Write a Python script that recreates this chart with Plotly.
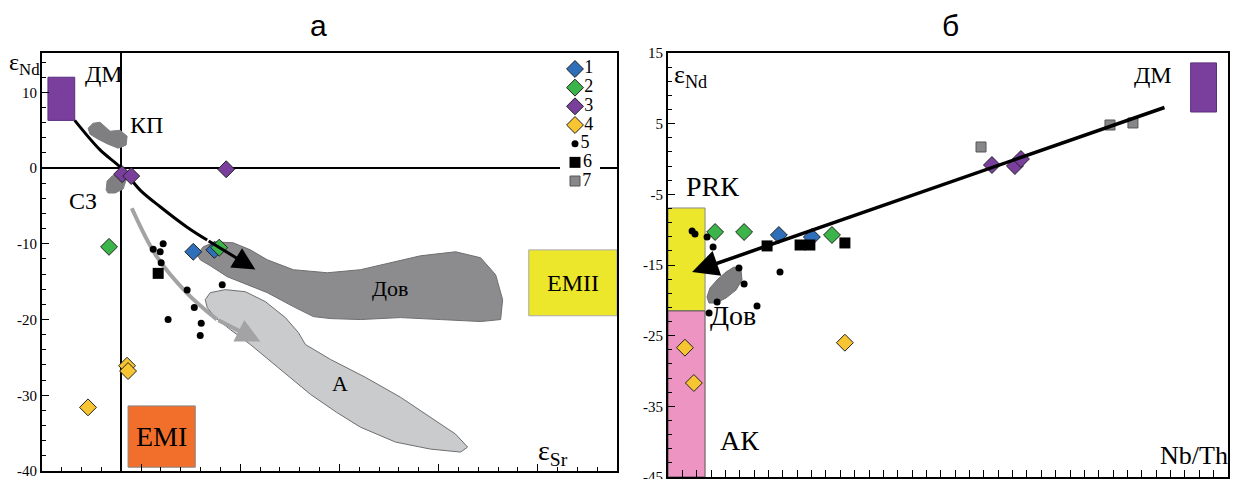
import plotly.graph_objects as go

W, H = 1233, 479
SERIF = "Times New Roman, Liberation Serif, DejaVu Serif, serif"

# ---------------- panel а : eps Sr vs eps Nd ----------------
a1_sr = [36.3, 46.9]
a1_nd = [-11.05, -10.8]
a2_sr = [-6.2, 49.4]
a2_nd = [-10.4, -10.5]
a3_sr = [0.4, 5.0, 52.9]
a3_nd = [-0.8, -1.05, -0.15]
a4_sr = [-16.8, 2.9, 3.4]
a4_nd = [-31.6, -26.1, -26.8]
a5_sr = [16.1, 21.1, 19.6, 20.1, 33.2, 50.9, 36.8, 23.6, 40.3, 39.8]
a5_nd = [-10.7, -10.0, -11.05, -12.5, -16.1, -15.4, -18.4, -20.0, -20.5, -22.1]
a6_sr = [18.6]
a6_nd = [-13.9]

# axis ticks (panel а)
a_xticks = [-40, 10, 60, 110, 160, 210]
a_xlabels = ["-40", "10", "60", "110", "160", "210"]
a_yticks = [-40, -30, -20, -10, 0, 10]
a_ylabels = ["-40", "-30", "-20", "-10", "0", "10"]

# fields (outlines)
kp_sr = [-16.77, -14.24, -10.71, -7.68, -5.66, -0.61, 2.93, 2.42, -1.62, -6.67, -11.72, -15.76]
kp_nd = [5.26, 5.92, 6.05, 5.39, 4.87, 5.0, 4.21, 3.03, 2.63, 3.16, 3.82, 4.47]
sz_sr = [-7.68, -7.17, -4.65, -1.62, 1.41, 2.42, 0.91, -3.13, -6.67]
sz_nd = [-2.89, -1.71, -1.05, -0.66, -0.79, -1.58, -2.76, -3.29, -3.29]
dov_sr = [38.28, 41.31, 47.37, 56.46, 65.05, 73.64, 86.77, 103.94, 120.61, 133.23, 150.91, 168.59,
          181.21, 188.79, 192.32, 191.31, 181.21, 161.01, 140.81, 120.61, 105.45, 96.87, 86.77,
          73.64, 60.0, 53.43, 44.85, 39.8]
dov_nd = [-11.45, -10.39, -9.74, -9.87, -10.79, -12.11, -13.42, -13.82, -13.42, -12.63, -11.58, -11.05,
          -11.84, -14.08, -17.37, -20.0, -20.26, -20.0, -19.74, -20.0, -19.87, -19.61, -18.29,
          -16.45, -15.0, -14.34, -12.89, -12.11]
a_sr = [42.32, 44.85, 52.42, 62.53, 72.63, 82.73, 89.29, 92.83, 105.45, 123.13, 140.81, 155.96,
        168.59, 174.65, 171.11, 155.96, 138.28, 120.61, 108.48, 95.35, 86.26, 75.15, 65.05, 54.95,
        47.37, 43.33]
a_nd = [-17.37, -16.45, -16.05, -16.32, -17.63, -19.74, -21.71, -23.29, -25.26, -27.63, -30.26, -32.89,
        -35.13, -36.84, -37.5, -37.11, -36.18, -34.21, -32.24, -29.87, -27.89, -25.53, -23.29, -21.32,
        -19.74, -18.42]

# trends
blk_sr = [-23.5, -10.7, 0.0, 9.5, 19.6, 33.2, 43.3]
blk_nd = [6.3, 2.4, 0.0, -2.9, -5.1, -7.8, -9.5]
blk_tip = (67.6, -13.4)
gry_sr = [5.3, 17.9, 33.1, 48.2]
gry_nd = [-5.3, -11.7, -16.5, -20.0]
gry_tip = (70.1, -22.9)

# reservoirs (sr0, sr1, nd0, nd1)
dm_a = (-37.0, -23.5, 6.3, 12.0)
emi = (3.4, 37.3, -39.5, -31.4)
emii = (205.5, 250.0, -19.5, -10.8)

# ---------------- panel б : Nb/Th vs eps Nd ----------------
b1_x = [3.86, 5.01]
b1_y = [-10.75, -11.04]
b2_x = [1.64, 2.65, 5.71]
b2_y = [-10.33, -10.33, -10.75]
b3_x = [11.28, 12.08, 12.29]
b3_y = [-0.85, -0.99, 0.0]
b4_x = [0.59, 0.9, 6.16]
b4_y = [-26.7, -31.7, -26.0]
b5_x = [0.84, 0.94, 1.36, 1.57, 2.47, 2.65, 1.71, 3.1, 1.43, 3.9]
b5_y = [-10.19, -10.61, -11.04, -12.45, -15.42, -17.69, -20.23, -20.8, -21.79, -15.99]
b6_x = [3.45, 4.6, 4.94, 6.16]
b6_y = [-12.3, -12.17, -12.17, -11.88]
b7_x = [10.9, 15.39, 16.19]
b7_y = [1.7, 4.81, 5.1]

b_yticks = [-45, -35, -25, -15, -5, 5, 15]
b_ylabels = ["-45", "-35", "-25", "-15", "-5", "5", "15"]

bdov_x = [1.358, 1.462, 1.706, 2.02, 2.298, 2.542, 2.577, 2.368, 2.02, 1.671, 1.428]
bdov_y = [-19.53, -18.25, -17.12, -15.99, -15.28, -15.71, -17.12, -18.54, -19.67, -20.38, -20.38]

b_trend_start = (17.34, 7.36)
b_trend_tip = (0.84, -15.99)

prk = (0.0, 1.29, -21.5, -6.93)
ak = (0.0, 1.29, -45.0, -21.5)
dm_b = (18.2, 19.1, 6.65, 13.6)

legend_labels = ["1", "2", "3", "4", "5", "6", "7"]

# ---------------- styles ----------------
STY = {
    1: dict(symbol="diamond", size=13, color="#2f6fba", line=dict(color="#222", width=1)),
    2: dict(symbol="diamond", size=13, color="#3bb54a", line=dict(color="#222", width=1)),
    3: dict(symbol="diamond", size=13, color="#7a3f9d", line=dict(color="#222", width=1)),
    4: dict(symbol="diamond", size=13, color="#f7c531", line=dict(color="#222", width=1)),
    5: dict(symbol="circle", size=7, color="black", line=dict(width=0)),
    6: dict(symbol="square", size=11, color="black", line=dict(width=0)),
    7: dict(symbol="square", size=10, color="#87878a", line=dict(color="#555", width=1)),
}

fig = go.Figure()


def poly(xs, ys, fill, line, xa="x", ya="y"):
    fig.add_trace(go.Scatter(x=xs + xs[:1], y=ys + ys[:1], mode="lines", fill="toself",
                             fillcolor=fill, line=dict(color=line, width=1),
                             xaxis=xa, yaxis=ya, showlegend=False, hoverinfo="skip"))


def pts(xs, ys, k, xa="x", ya="y"):
    fig.add_trace(go.Scatter(x=xs, y=ys, mode="markers", marker=STY[k], xaxis=xa, yaxis=ya,
                             showlegend=False))


# panel а fields
poly(a_sr, a_nd, "#c9cbcd", "#6e6e70")
poly(dov_sr, dov_nd, "#8c8c8f", "#6e6e70")
poly(kp_sr, kp_nd, "#7f7f82", "#7f7f82")
poly(sz_sr, sz_nd, "#7f7f82", "#7f7f82")

# trend lines
fig.add_trace(go.Scatter(x=gry_sr, y=gry_nd, mode="lines", line=dict(color="#a3a3a5", width=4, shape="spline"),
                         showlegend=False, hoverinfo="skip"))
fig.add_trace(go.Scatter(x=blk_sr, y=blk_nd, mode="lines", line=dict(color="black", width=3, shape="spline"),
                         showlegend=False, hoverinfo="skip"))

for k, (xs, ys) in {1: (a1_sr, a1_nd), 2: (a2_sr, a2_nd), 3: (a3_sr, a3_nd), 4: (a4_sr, a4_nd),
                    5: (a5_sr, a5_nd), 6: (a6_sr, a6_nd)}.items():
    pts(xs, ys, k)

# panel б
poly(bdov_x, bdov_y, "#7f7f82", "#6e6e70", "x2", "y2")
for k, (xs, ys) in {7: (b7_x, b7_y), 1: (b1_x, b1_y), 2: (b2_x, b2_y), 3: (b3_x, b3_y),
                    4: (b4_x, b4_y), 5: (b5_x, b5_y), 6: (b6_x, b6_y)}.items():
    pts(xs, ys, k, "x2", "y2")

# manual legend
for i, lab in enumerate(legend_labels):
    fig.add_trace(go.Scatter(x=[1.5], y=[i], mode="markers+text", marker=STY[i + 1],
                             text=[lab], textposition="middle right",
                             textfont=dict(family=SERIF, size=18, color="black"),
                             xaxis="x3", yaxis="y3", showlegend=False, hoverinfo="skip"))

shapes = []


def rect(r, color, xref="x", yref="y", line=None):
    shapes.append(dict(type="rect", xref=xref, yref=yref, x0=r[0], x1=r[1], y0=r[2], y1=r[3],
                       fillcolor=color, line=line or dict(width=0), layer="below"))


rect(dm_a, "#7a3f9d", line=dict(color="#5a2f7d", width=1))
rect(emi, "#f26f2b", line=dict(color="#888", width=1))
rect(emii, "#ede72b", line=dict(color="#aaa", width=1))
rect(prk, "#ede72b", "x2", "y2", line=dict(color="#888", width=1))
rect(ak, "#ee94c3", "x2", "y2", line=dict(color="#555", width=1))
rect(dm_b, "#7a3f9d", "x2", "y2", line=dict(color="#5a2f7d", width=1))

ann = []


def txt(x, y, s, size, xref="x", yref="y", family=SERIF):
    ann.append(dict(x=x, y=y, xref=xref, yref=yref, text=s, showarrow=False,
                    xanchor="center", yanchor="middle",
                    font=dict(family=family, size=size, color="black")))


def arrow(tip, tail, color, width, head, size, xref="x", yref="y"):
    ann.append(dict(x=tip[0], y=tip[1], ax=tail[0], ay=tail[1], xref=xref, yref=yref,
                    axref=xref, ayref=yref, showarrow=True, arrowhead=head, arrowsize=size,
                    arrowwidth=width, arrowcolor=color, text=""))


arrow(blk_tip, (blk_sr[-1], blk_nd[-1]), "black", 3, 2, 1.5)
arrow(gry_tip, (gry_sr[-1], gry_nd[-1]), "#a3a3a5", 4, 2, 1.2)
arrow(b_trend_tip, b_trend_start, "black", 3.5, 2, 1.5, "x2", "y2")

# panel а labels
txt(-8.5, 12.4, "ДМ", 24)
txt(12.5, 5.7, "КП", 24)
txt(-19.5, -4.4, "СЗ", 24)
txt(135.5, -15.9, "Дов", 22)
txt(110.5, -28.4, "А", 22)
txt(227.7, -15.2, "EMII", 24)
txt(20.3, -35.5, "EMI", 28)
txt(217.5, -37.6, "ε<sub>Sr</sub>", 28)

# panel б labels
txt(1.55, -3.9, "PRК", 28, "x2", "y2")
txt(2.28, -22.2, "Дов", 28, "x2", "y2")
txt(2.5, -39.8, "АК", 28, "x2", "y2")
txt(16.9, 11.9, "ДМ", 24, "x2", "y2")
txt(18.3, -42.0, "Nb/Th", 26, "x2", "y2")

# axis titles & panel letters (paper)
txt(24 / W, 1 - 64 / H, "ε<sub>Nd</sub>", 24, "paper", "paper")
txt(690 / W, 1 - 76 / H, "ε<sub>Nd</sub>", 26, "paper", "paper")
txt(318 / W, 1 - 25 / H, "а", 30, "paper", "paper", family="Liberation Sans, Arial, sans-serif")
txt(950 / W, 1 - 25 / H, "б", 30, "paper", "paper", family="Liberation Sans, Arial, sans-serif")

tickfont = dict(family=SERIF, size=15, color="black")
common = dict(showgrid=False, showline=True, linecolor="black", linewidth=2, mirror=True,
              ticks="inside", ticklen=7, tickcolor="black", tickfont=tickfont, automargin=False,
              ticklabeloverflow="allow")

fig.update_layout(
    width=W, height=H,
    margin=dict(l=0, r=0, t=0, b=0, autoexpand=False),
    paper_bgcolor="white", plot_bgcolor="white",
    showlegend=False,
    shapes=shapes, annotations=ann,
    xaxis=dict(domain=[42 / W, 617 / W], range=[-40, 250], tickvals=a_xticks, ticktext=a_xlabels,
               zeroline=True, zerolinecolor="black", zerolinewidth=1.5,
               minor=dict(tick0=-40, dtick=10, ticks="inside", ticklen=4, tickcolor="black"),
               anchor="y", **common),
    yaxis=dict(domain=[(H - 471) / H, (H - 53) / H], range=[-40, 15.2], tickvals=a_yticks, ticktext=a_ylabels,
               zeroline=True, zerolinecolor="black", zerolinewidth=1.5,
               minor=dict(tick0=0, dtick=2, ticks="inside", ticklen=4, tickcolor="black"),
               anchor="x", **common),
    xaxis2=dict(domain=[668 / W, 1228 / W], range=[0, 19.5], dtick=0.5, showticklabels=False,
                zeroline=False, anchor="y2", **common),
    yaxis2=dict(domain=[(H - 477) / H, (H - 53) / H], range=[-45, 15], tickvals=b_yticks, ticktext=b_ylabels,
                zeroline=False, minor=dict(tick0=-45, dtick=2, ticks="inside", ticklen=4, tickcolor="black"),
                anchor="x2", **common),
    xaxis3=dict(domain=[560 / W, 600 / W], range=[0, 4], visible=False, anchor="y3"),
    yaxis3=dict(domain=[(H - 190) / H, (H - 60) / H], range=[6.48, -0.48], visible=False, anchor="x3"),
)

fig.write_html("out.html", config={"displayModeBar": False},
               post_script="document.body.style.margin='0';document.body.style.overflow='hidden';")
